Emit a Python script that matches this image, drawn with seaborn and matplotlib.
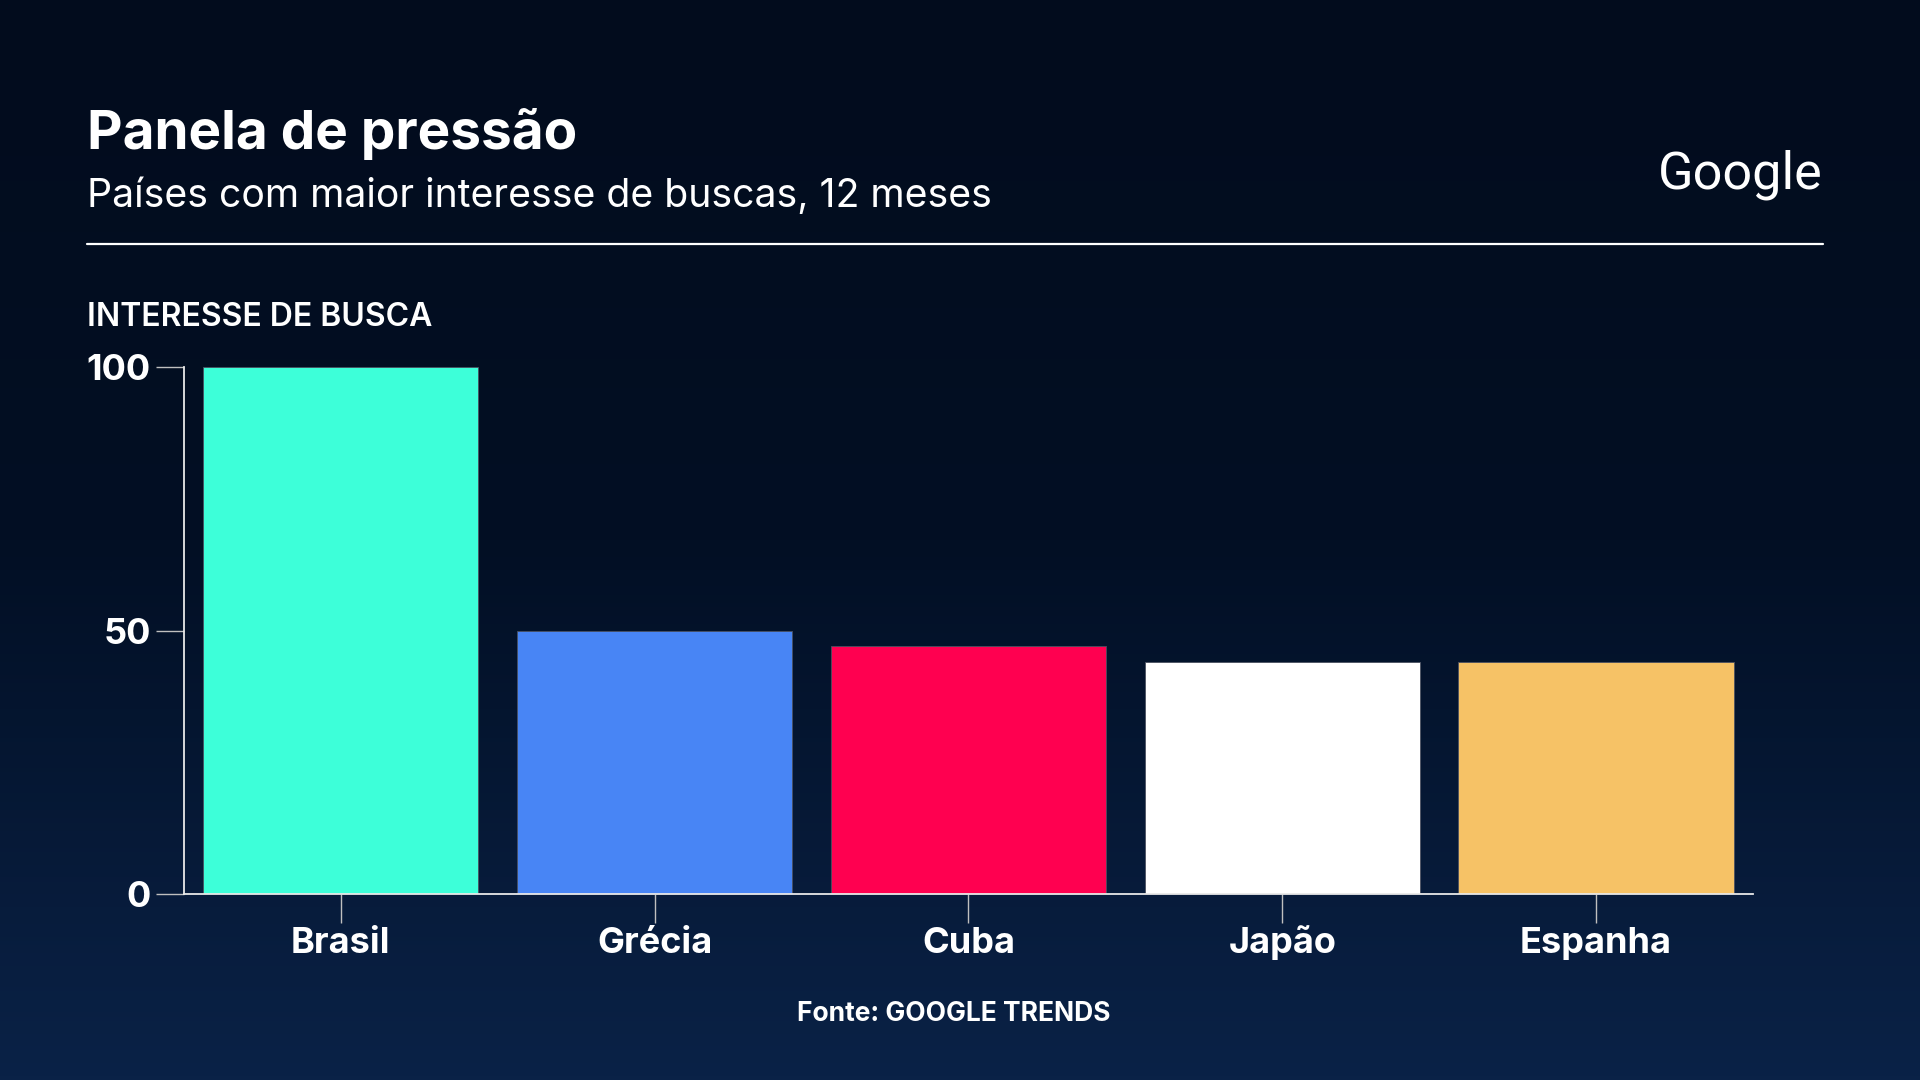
import numpy as np
import pandas as pd
import matplotlib.pyplot as plt
import seaborn as sns
from matplotlib.colors import LinearSegmentedColormap

paises = ["Brasil", "Grécia", "Cuba", "Japão", "Espanha"]
interesse = [100, 50, 47, 44, 44]
cores = ["#3dffd9", "#4885f5", "#ff0050", "#ffffff", "#f6c266"]
yticks = [0, 50, 100]

titulo = "Panela de pressão"
subtitulo = "Países com maior interesse de buscas, 12 meses"
rotulo_y = "INTERESSE DE BUSCA"
fonte = "Fonte: GOOGLE TRENDS"

df = pd.DataFrame({"pais": paises, "interesse": interesse})

sns.set_theme(style="white")
plt.rcParams["font.family"] = ["Inter", "DejaVu Sans"]

fig = plt.figure(figsize=(19.2, 10.8), dpi=100)

# fundo em degrade
bg = fig.add_axes([0, 0, 1, 1], zorder=-10)
grad = np.linspace(0, 1, 256).reshape(-1, 1)
cmap = LinearSegmentedColormap.from_list(
    "bg", [(0, "#020c1d"), (0.5, "#020f24"), (1, "#0a2247")])
bg.imshow(grad, aspect="auto", cmap=cmap, extent=[0, 1, 0, 1], origin="upper")
bg.axis("off")

ax = fig.add_axes([0.0958, 0.1722, 0.8172, 0.488])
ax.set_facecolor("none")
sns.barplot(data=df, x="pais", y="interesse", hue="pais", palette=cores,
            saturation=1, width=0.877, legend=False, ax=ax,
            edgecolor="#4a5060", linewidth=0.6)

ax.set_ylim(0, 100)
ax.set_xlim(-0.5, len(paises) - 0.5)
ax.set_yticks(yticks)
ax.set_xlabel("")
ax.set_ylabel("")
for s in ["top", "right"]:
    ax.spines[s].set_visible(False)
for s in ["left", "bottom"]:
    ax.spines[s].set_color("#e8e8e8")
    ax.spines[s].set_linewidth(1.3)
ax.spines["bottom"].set_zorder(5)
ax.tick_params(axis="y", length=20, width=1, color="#bfbfbf", pad=4,
               labelsize=26, labelcolor="white", left=True)
ax.tick_params(axis="x", length=21, width=1, color="#bfbfbf", pad=21.5,
               labelsize=26, labelcolor="white", bottom=True)
for lab in ax.get_xticklabels() + ax.get_yticklabels():
    lab.set_fontweight("bold")
for lab in ax.get_xticklabels():
    lab.set_verticalalignment("baseline")

fig.text(0.0453, 0.862, titulo, fontsize=39.5, fontweight="bold", color="white",
         va="baseline")
fig.text(0.0453, 0.818, subtitulo, fontsize=28.2, color="white", va="center")
fig.add_artist(plt.Line2D([0.0453, 0.9495], [0.774, 0.774], color="white",
                          linewidth=1.6))
fig.text(0.9495, 0.838, "Google", fontsize=37.5, color="white", ha="right",
         va="center", family=["Roboto", "DejaVu Sans"])
fig.text(0.0453, 0.706, rotulo_y, fontsize=23, fontweight="semibold",
         color="white", va="center")
fig.text(0.497, 0.061, fonte, fontsize=19, fontweight="bold", color="white",
         ha="center", va="center")

fig.savefig("out.png", dpi=100)
